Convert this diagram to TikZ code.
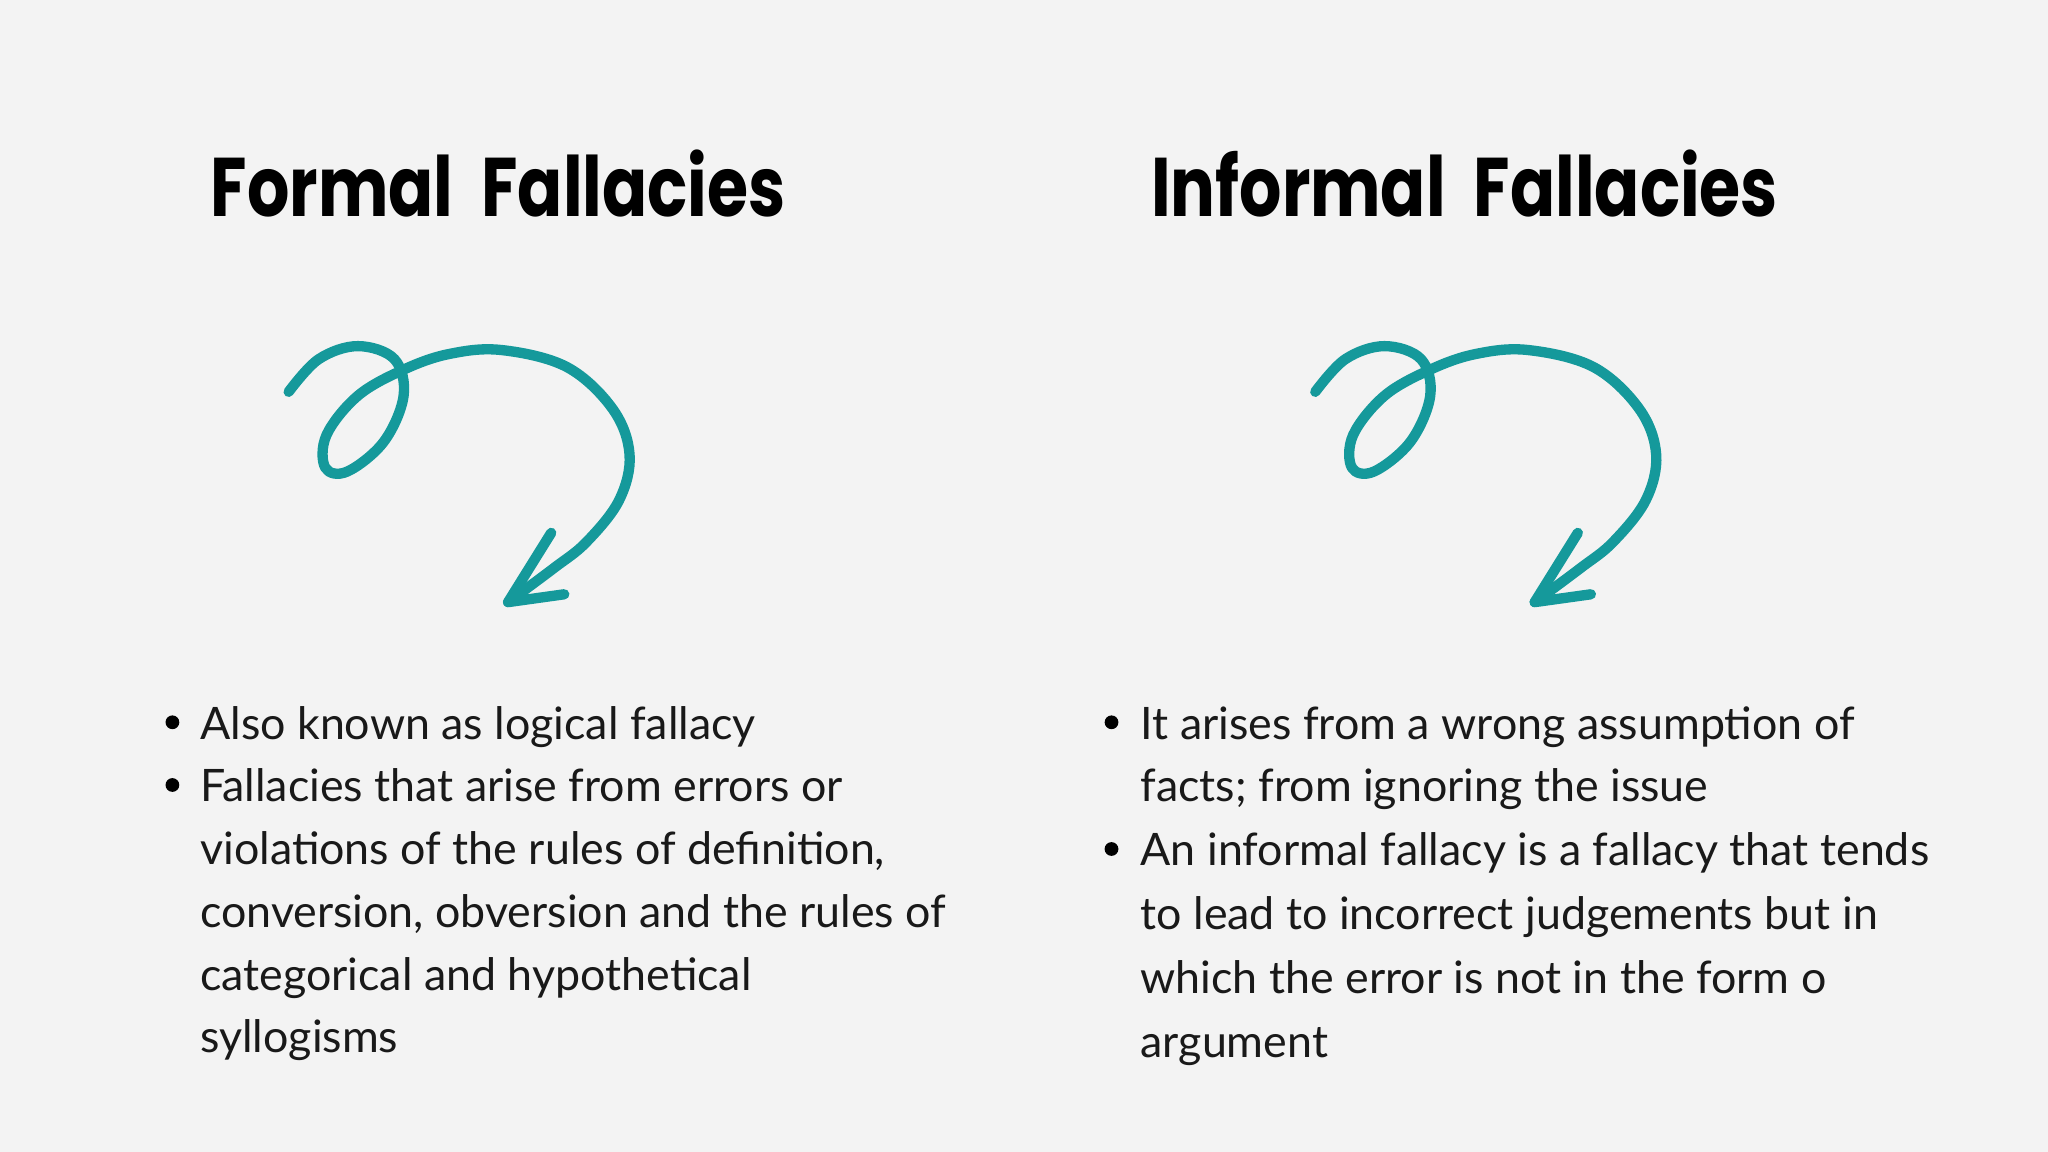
\documentclass[tikz,border=0pt]{standalone}
\usepackage{fontspec}
\setmainfont{Lato}
\newfontfamily\headfont{Poppins}
\definecolor{teal1}{HTML}{15999B}
\definecolor{bg}{HTML}{F3F3F3}
\tikzset{
 head/.style={anchor=base west,inner sep=0pt,font=\headfont\bfseries\fontsize{29}{34}\selectfont},
 body/.style={anchor=base west,inner sep=0pt,font=\fontsize{19.5}{24}\selectfont,text=black!90},
 swirl/.style={draw=teal1,line width=4.5pt,line cap=round,line join=round},
 dot/.style={circle,fill=black,inner sep=0pt,minimum size=6pt}
}
\newcommand{\swirlat}[2]{%
 \begin{scope}[shift={(#1,#2)}]
 \draw[swirl] plot[smooth,tension=0.6] coordinates{(217,297)(240,272)(270,262)(298,272)(305,300)(290,335)(262,358)(245,355)(246,330)(270,300)(305,280)(340,268)(380,265)(430,278)(465,310)(478,345)(470,380)(445,412)(420,432)(385,458)};
 \draw[swirl] (418,405) -- (385,458) -- (428,452);
 \end{scope}}
\begin{document}
\begin{tikzpicture}[x=0.02cm,y=-0.02cm]
\fill[bg] (0,0) rectangle (1568,882);
\node[head] (h1) at (161,166) {\scalebox{1}[1.25]{Formal\ \ Fallacies}};
\node[head] (h2) at (881,166) {\scalebox{1}[1.25]{Informal\ \ Fallacies}};
\swirlat{4}{3}
\swirlat{790}{3}
\node[dot] (d1) at (132,553) {};
\node[dot] (d2) at (132,601) {};
\node[body] (l1) at (153,566) {Also known as logical fallacy};
\node[body] (l2) at (153,614) {Fallacies that arise from errors or};
\node[body] (l3) at (153,662) {violations of the rules of definition,};
\node[body] (l4) at (153,710) {conversion, obversion and the rules of};
\node[body] (l5) at (153,758) {categorical and hypothetical};
\node[body] (l6) at (153,806) {syllogisms};
\node[dot] (d3) at (851,553) {};
\node[dot] (d4) at (851,650) {};
\node[body] (r1) at (873,566) {It arises from a wrong assumption of};
\node[body] (r2) at (873,614) {facts; from ignoring the issue};
\node[body] (r3) at (873,663) {An informal fallacy is a fallacy that tends};
\node[body] (r4) at (873,712) {to lead to incorrect judgements but in};
\node[body] (r5) at (873,761) {which the error is not in the form o};
\node[body] (r6) at (873,810) {argument};
\end{tikzpicture}
\end{document}
